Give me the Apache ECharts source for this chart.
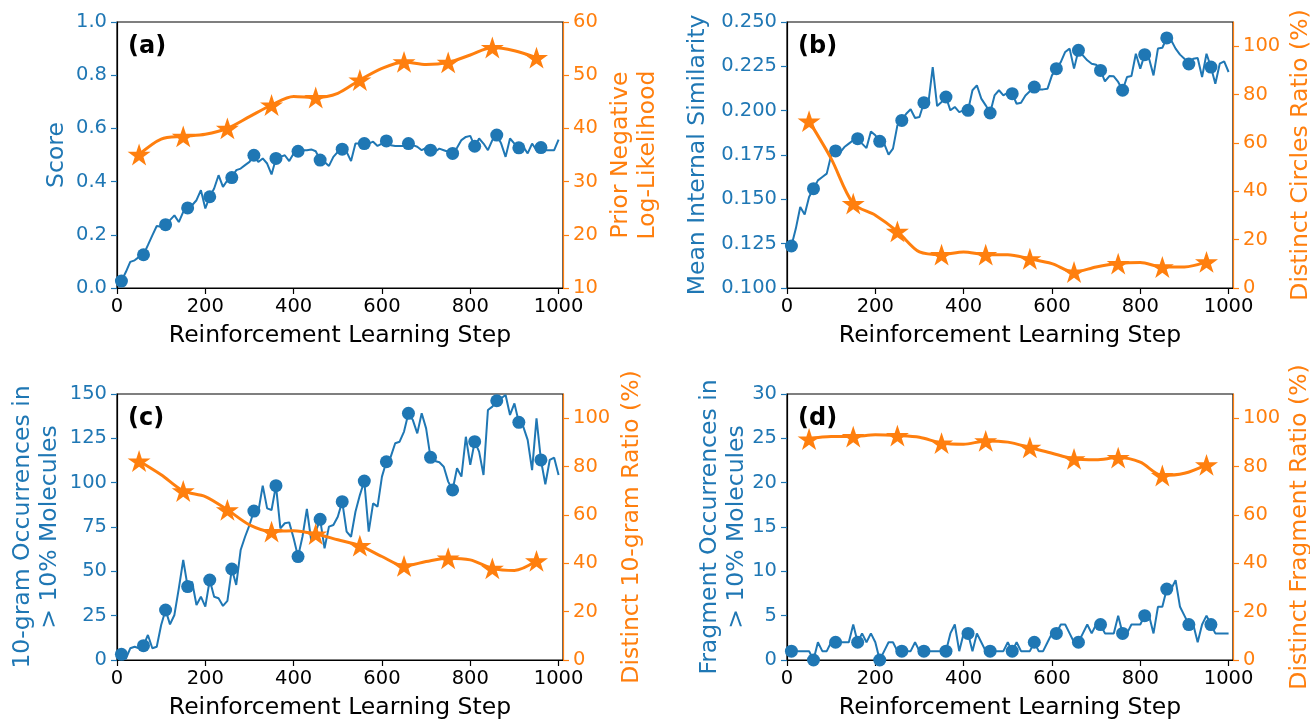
<!DOCTYPE html>
<html><head><meta charset="utf-8">
<script src="https://cdn.jsdelivr.net/npm/echarts@6/dist/echarts.min.js"></script>
<style>html,body{margin:0;padding:0;background:#fff}#c{width:1310px;height:720px}</style>
</head><body><div id="c"></div>
<script>
// ---- data ----
const steps = []; for (let s = 10; s <= 1000; s += 10) steps.push(s);
const starSteps = [50,100,150,200,250,300,350,400,450,500,550,600,650,700,750,800,850,900,950];
const xTicks = [0,200,400,600,800,1000];

const scoreA = [.026,.060,.098,.104,.117,.125,.161,.198,.233,.230,
 .238,.255,.273,.248,.286,.301,.311,.330,.368,.299,
 .343,.374,.424,.380,.405,.415,.443,.449,.462,.474,
 .499,.474,.487,.468,.427,.487,.493,.499,.477,.506,
 .514,.518,.518,.521,.514,.481,.474,.459,.493,.512,
 .522,.512,.477,.543,.543,.543,.543,.550,.534,.543,
 .553,.537,.534,.534,.534,.543,.537,.531,.518,.527,
 .518,.512,.524,.518,.512,.506,.527,.556,.568,.572,
 .533,.562,.543,.518,.556,.575,.543,.493,.562,.543,
 .527,.531,.506,.543,.518,.528,.518,.518,.518,.558];
const nllA = [35.1,38.0,38.5,38.9,40.0,42.2,44.4,46.0,45.8,46.6,49.1,51.3,52.5,52.0,52.4,53.8,55.2,54.6,53.3];

const simB = [.1237,.1335,.1457,.1414,.1513,.1560,.1607,.1626,.1645,.1748,
 .1773,.1763,.1795,.1814,.1833,.1842,.1814,.1789,.1883,.1861,
 .1827,.1814,.1752,.1786,.1917,.1945,.1983,.2008,.1959,.1964,
 .2045,.2039,.2246,.2026,.2049,.2077,.2002,.2021,.1992,.2002,
 .2002,.2115,.2143,.2068,.2030,.1987,.2086,.2115,.2086,.2102,
 .2096,.2039,.2045,.2086,.2109,.2133,.2120,.2120,.2124,.2199,
 .2237,.2274,.2331,.2350,.2237,.2340,.2312,.2284,.2265,.2259,
 .2227,.2165,.2195,.2194,.2162,.2115,.2190,.2195,.2321,.2237,
 .2316,.2293,.2199,.2350,.2355,.2410,.2397,.2350,.2316,.2293,
 .2263,.2293,.2297,.2190,.2321,.2246,.2152,.2265,.2278,.2218];
const circlesB = [69.0,53.5,34.9,30.1,23.4,14.9,13.8,14.9,13.8,13.8,12.1,10.1,6.6,8.7,10.1,10.5,8.7,8.7,10.8];

const ngramC = [3.2,0.6,6.6,7.5,6.6,8.1,14.1,6.6,7.5,19.7,
 28.2,20.1,25.4,40.4,56.4,41.4,44.2,31.0,35.7,30.1,
 45.1,35.7,34.8,30.5,33.3,51.3,42.3,62.0,69.5,76.1,
 84.0,83.6,98.3,85.5,84.6,98.3,74.2,77.1,77.6,68.6,
 58.3,69.5,85.2,67.1,72.4,79.3,63.0,75.2,76.1,80.8,
 89.3,72.4,69.5,83.6,93.0,100.9,72.4,88.3,86.5,103.4,
 111.8,114.7,122.2,123.1,128.8,139.1,135.3,127.8,139.1,130.6,
 114.3,112.2,111.5,109.0,100.6,95.9,108.1,103.4,125.9,110.0,
 123.1,117.5,104.3,141.0,142.9,146.2,147.6,149.4,138.2,144.7,
 134.0,131.6,124.1,107.1,136.3,112.8,99.1,112.8,114.1,104.3];
const ngramRatioC = [82.3,76.6,69.9,67.6,62.1,55.9,53.1,53.5,52.1,49.7,47.3,42.8,38.9,40.7,42.1,41.4,37.9,37.0,41.0];

const fragD = [1,1,1,1,1,0,2,1,1,2,
 2,2,2,2,4,2,3,2,3,2,
 0,1,2,2,1,1,1,1,2,1,
 1,1,1,1,1,1,3,4,1,3,
 3,1,3,2,1,1,1,1,1,2,
 1,2,1,1,1,2,1,1,2,3,
 3,4,4,3,2,2,3,4,3,4,
 4,3,3,3,5,3,3,4,4,4,
 5,5,3,6,6,8,8,9,6,5,
 4,4,2,4,5,4,3,3,3,3];
const fragRatioD = [91.4,92.4,92.4,93.1,92.8,92.1,89.7,89.2,90.6,90.1,87.9,85.5,83.2,82.8,83.7,81.8,76.3,77.2,80.7];

const ticksA = [0,0.2,0.4,0.6,0.8,1.0];
const ticksA2 = [10,20,30,40,50,60];
const ticksB = [0.1,0.125,0.15,0.175,0.2,0.225,0.25];
const ticksPct = [0,20,40,60,80,100];
const ticksC = [0,25,50,75,100,125,150];
const ticksD = [0,5,10,15,20,25,30];

// ---- styling ----
const BLUE = '#1f77b4', ORANGE = '#ff7f0e', FONT = 'DejaVu Sans';
const STAR = 'path://M50,0L61.2,34.5L97.6,34.5L68.2,55.9L79.4,90.5L50,69.1L20.6,90.5L31.8,55.9L2.4,34.5L38.8,34.5Z';
const TICK = 19.5, NAME = 23.5;

const panels = [
  {left:117, top:22, tag:'(a)', blue:scoreA, orange:nllA,
   lName:'Score', lMin:0, lMax:1, lTicks:ticksA, lFmt:v=>v.toFixed(1), lGap:47,
   rName:'Prior Negative\nLog-Likelihood', rMin:10, rMax:60, rTicks:ticksA2, rGap:44},
  {left:787, top:22, tag:'(b)', blue:simB, orange:circlesB,
   lName:'Mean Internal Similarity', lMin:0.1, lMax:0.25, lTicks:ticksB, lFmt:v=>v.toFixed(3), lGap:76,
   rName:'Distinct Circles Ratio (%)', rMin:0, rMax:110, rTicks:ticksPct, rGap:54},
  {left:117, top:394, tag:'(c)', blue:ngramC, orange:ngramRatioC,
   lName:'10-gram Occurrences in\n> 10% Molecules', lMin:0, lMax:150, lTicks:ticksC, lFmt:v=>String(v), lGap:54,
   rName:'Distinct 10-gram Ratio (%)', rMin:0, rMax:110, rTicks:ticksPct, rGap:55},
  {left:787, top:394, tag:'(d)', blue:fragD, orange:fragRatioD,
   lName:'Fragment Occurrences in\n> 10% Molecules', lMin:0, lMax:30, lTicks:ticksD, lFmt:v=>String(v), lGap:37,
   rName:'Distinct Fragment Ratio (%)', rMin:0, rMax:110, rTicks:ticksPct, rGap:53}
];

const grid = [], xAxis = [], yAxis = [], series = [], graphic = [];
panels.forEach((p, i) => {
  grid.push({left:p.left, top:p.top, width:446, height:266, show:true, borderColor:'#000', borderWidth:1.2,
             backgroundColor:'transparent', containLabel:false, outerBoundsMode:'none'});
  xAxis.push({type:'value', gridIndex:i, min:0, max:1010, position:'bottom',
    name:'Reinforcement Learning Step', nameLocation:'middle', nameGap:36, nameMoveOverlap:false,
    nameTextStyle:{fontFamily:FONT, fontSize:NAME, color:'#000'},
    axisLine:{show:true, onZero:false, lineStyle:{color:'#000', width:1.2}},
    axisTick:{show:true, inside:false, length:6, customValues:xTicks, lineStyle:{color:'#000', width:1.2}},
    axisLabel:{show:true, margin:9, customValues:xTicks, formatter:v=>String(v), fontFamily:FONT, fontSize:TICK, color:'#000'},
    splitLine:{show:false}});
  yAxis.push({type:'value', gridIndex:i, position:'left', min:p.lMin, max:p.lMax,
    name:p.lName, nameLocation:'middle', nameRotate:90, nameGap:p.lGap, nameMoveOverlap:false,
    nameTextStyle:{fontFamily:FONT, fontSize:NAME, color:BLUE, lineHeight:27},
    axisLine:{show:true, onZero:false, lineStyle:{color:'#000', width:1.2}},
    axisTick:{show:true, inside:false, length:6, customValues:p.lTicks, lineStyle:{color:BLUE, width:1.2}},
    axisLabel:{show:true, margin:10, customValues:p.lTicks, formatter:p.lFmt, fontFamily:FONT, fontSize:TICK, color:BLUE},
    splitLine:{show:false}});
  yAxis.push({type:'value', gridIndex:i, position:'right', min:p.rMin, max:p.rMax,
    name:p.rName, nameLocation:'middle', nameRotate:90, nameGap:p.rGap, nameMoveOverlap:false,
    nameTextStyle:{fontFamily:FONT, fontSize:NAME, color:ORANGE, lineHeight:27},
    axisLine:{show:true, onZero:false, lineStyle:{color:ORANGE, width:1.2}},
    axisTick:{show:true, inside:false, length:6, customValues:p.rTicks, lineStyle:{color:ORANGE, width:1.2}},
    axisLabel:{show:true, margin:10, customValues:p.rTicks, formatter:v=>String(v), fontFamily:FONT, fontSize:TICK, color:ORANGE},
    splitLine:{show:false}});
  series.push({type:'line', xAxisIndex:i, yAxisIndex:2*i, z:2,
    data:steps.map((s,k)=>({value:[s, p.blue[k]], symbol: k % 5 === 0 ? 'circle' : 'none'})),
    symbolSize:13, lineStyle:{color:BLUE, width:2}, itemStyle:{color:BLUE}, emphasis:{disabled:true}, animation:false});
  series.push({type:'line', xAxisIndex:i, yAxisIndex:2*i+1, z:3, smooth:0.3,
    data:starSteps.map((s,k)=>({value:[s, p.orange[k]], symbol: k % 2 === 0 ? STAR : 'none'})),
    symbolSize:23, symbolKeepAspect:true, lineStyle:{color:ORANGE, width:3}, itemStyle:{color:ORANGE},
    emphasis:{disabled:true}, animation:false});
  graphic.push({type:'text', left:p.left + 11, top:p.top + 13,
    style:{text:p.tag, fontFamily:FONT, fontWeight:'bold', fontSize:24, fill:'#000'}});
});

const chart = echarts.init(document.getElementById('c'), null, {renderer:'canvas'});
chart.setOption({backgroundColor:'#fff', animation:false, textStyle:{fontFamily:FONT},
  grid, xAxis, yAxis, series, graphic});
</script></body></html>
